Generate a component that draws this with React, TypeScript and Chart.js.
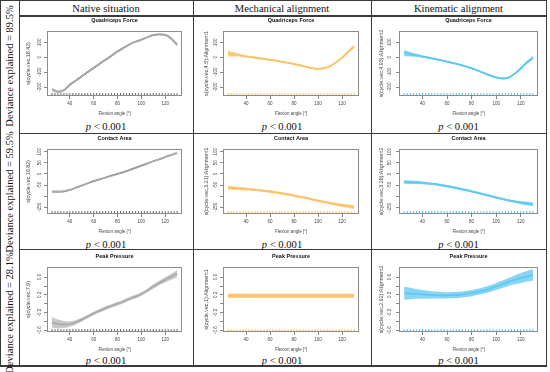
import React, { useEffect, useRef } from 'react';
import { Chart, registerables } from 'chart.js';
Chart.register(...registerables);

// ---------- data ----------
const flexion = [25, 30, 35, 40, 45, 50, 55, 60, 65, 70, 75, 80, 85, 90, 95, 100, 105, 110, 115, 120, 125, 130];
const rugAngles = [25, 27.5, 30, 32.5, 35, 37.5, 40, 42.5, 45, 47.5, 50, 52.5, 55, 57.5, 60, 62.5, 65, 67.5, 70, 72.5, 75, 77.5, 80, 82.5, 85, 87.5, 90, 92.5, 95, 97.5, 100, 102.5, 105, 107.5, 110, 112.5, 115, 117.5, 120, 122.5, 125, 127.5, 130];
const xTicks = [40, 60, 80, 100, 120];

const qfNative = [-215, -232, -222, -185, -157, -128, -100, -72, -44, -17, 10, 37, 62, 85, 103, 117, 133, 147, 153, 149, 125, 82];
const qfNativeBand = [10, 8, 6, 5, 5, 5, 5, 5, 5, 5, 5, 5, 5, 5, 5, 5, 5, 5, 5, 6, 8, 10];
const qfMech = [22, 18, 12, 5, 0, -6, -12, -18, -24, -31, -38, -46, -55, -64, -74, -78, -74, -60, -35, -3, 35, 72];
const qfMechBand = [20, 14, 9, 6, 5, 5, 5, 5, 5, 5, 5, 5, 5, 5, 5, 5, 5, 5, 5, 6, 8, 12];
const qfKin = [28, 20, 12, 4, -4, -12, -20, -30, -40, -50, -61, -74, -90, -106, -122, -136, -143, -137, -112, -76, -36, -3];
const qfKinBand = [22, 15, 10, 7, 6, 5, 5, 5, 5, 5, 5, 5, 5, 5, 5, 5, 5, 5, 6, 7, 9, 12];

const caNative = [-80, -80, -78, -72, -62, -52, -42, -32, -24, -16, -8, 0, 8, 17, 27, 37, 47, 57, 66, 76, 85, 94];
const caNativeBand = [6, 5, 4, 4, 3, 3, 3, 3, 3, 3, 3, 3, 3, 3, 3, 3, 3, 3, 3, 4, 5, 6];
const caMech = [-62, -64, -66, -68, -70, -73, -76, -79, -83, -87, -92, -97, -103, -108, -114, -120, -126, -131, -136, -141, -145, -149];
const caMechBand = [9, 8, 7, 6, 5, 5, 5, 5, 5, 5, 5, 5, 5, 5, 5, 5, 5, 5, 6, 7, 8, 9];
const caKin = [-36, -37, -38, -40, -43, -46, -50, -55, -60, -66, -72, -78, -85, -92, -99, -106, -112, -119, -124, -129, -133, -137];
const caKinBand = [9, 8, 7, 6, 5, 5, 5, 5, 5, 5, 5, 5, 5, 5, 5, 5, 5, 5, 6, 7, 8, 9];

const ppNative = [-0.42, -0.46, -0.47, -0.46, -0.42, -0.36, -0.29, -0.22, -0.16, -0.1, -0.05, 0.0, 0.05, 0.11, 0.16, 0.22, 0.3, 0.39, 0.47, 0.54, 0.61, 0.68];
const ppNativeBand = [0.12, 0.1, 0.08, 0.06, 0.05, 0.04, 0.04, 0.04, 0.04, 0.04, 0.04, 0.04, 0.04, 0.04, 0.04, 0.04, 0.04, 0.05, 0.05, 0.06, 0.07, 0.08];
const ppMech = [0.18, 0.18, 0.18, 0.18, 0.18, 0.18, 0.18, 0.18, 0.18, 0.18, 0.18, 0.18, 0.18, 0.18, 0.18, 0.18, 0.18, 0.18, 0.18, 0.18, 0.18, 0.18];
const ppMechBand = [0.05, 0.05, 0.05, 0.05, 0.05, 0.05, 0.05, 0.05, 0.05, 0.05, 0.05, 0.05, 0.05, 0.05, 0.05, 0.05, 0.05, 0.05, 0.05, 0.05, 0.05, 0.05];
const ppKin = [0.24, 0.23, 0.22, 0.21, 0.2, 0.195, 0.19, 0.19, 0.195, 0.2, 0.22, 0.24, 0.27, 0.3, 0.34, 0.39, 0.44, 0.49, 0.54, 0.58, 0.62, 0.65];
const ppKinBand = [0.15, 0.13, 0.11, 0.1, 0.09, 0.08, 0.075, 0.07, 0.07, 0.07, 0.07, 0.07, 0.07, 0.07, 0.075, 0.08, 0.085, 0.09, 0.1, 0.11, 0.12, 0.13];

const qfTicks = [-200, -100, 0, 100];
const qfTickLabels = ['-200', '-100', '0', '100'];
const caTicks = [-150, -100, -50, 0, 50, 100];
const caTickLabels = ['-150', '', '-50', '0', '50', '100'];
const ppTicks = [-0.6, -0.4, -0.2, 0, 0.2, 0.4, 0.6];
const ppTickLabels = ['-0.6', '', '-0.2', '', '0.2', '', '0.6'];
const qfRange = [-260, 175];
const caRange = [-180, 112];
const ppRange = [-0.64, 0.83];
const xRange = [20.8, 134.2];

const columnTitles = ['Native situation', 'Mechanical alignment', 'Kinematic alignment'];
const rowLabels = ['Deviance explained = 89.5%', 'Deviance explained = 59.5%', 'Deviance explained = 28.1%'];
const panelTitles = ['Quadriceps Force', 'Contact Area', 'Peak Pressure'];
const yAxisTitles = [
  ['s(cycle.vec,18.42)', 's(cycle.vec,4.5):Alignment1', 's(cycle.vec,4.93):Alignment2'],
  ['s(cycle.vec,10.82)', 's(cycle.vec,3.21):Alignment1', 's(cycle.vec,3.28):Alignment2'],
  ['s(cycle.vec,7.9)', 's(cycle.vec,1):Alignment1', 's(cycle.vec,2.92):Alignment2'],
];
const xAxisTitle = 'Flexion angle [°]';
const pValueText = '< 0.001';

const rowData = [
  { mids: [qfNative, qfMech, qfKin], bands: [qfNativeBand, qfMechBand, qfKinBand], ticks: qfTicks, labels: qfTickLabels, range: qfRange },
  { mids: [caNative, caMech, caKin], bands: [caNativeBand, caMechBand, caKinBand], ticks: caTicks, labels: caTickLabels, range: caRange },
  { mids: [ppNative, ppMech, ppKin], bands: [ppNativeBand, ppMechBand, ppKinBand], ticks: ppTicks, labels: ppTickLabels, range: ppRange },
];

// ---------- styles ----------
const palettes = [
  { line: '#777777', band: 'rgba(185,185,185,0.8)', rug: '#555555' },
  { line: '#fdb94f', band: 'rgba(253,196,110,0.8)', rug: '#fdb54a' },
  { line: '#3dbfee', band: 'rgba(105,203,243,0.8)', rug: '#38bdec' },
];
const SANS = '"Liberation Sans", Arial, sans-serif';
const SERIF = '"Liberation Serif", "Times New Roman", serif';
const colBoxLeft = [47, 223, 399];
const colBoxWidth = [138, 139, 142];
const colYTitleOffset = [18.4, 16.5, 17.6];
const colYTickOffset = [7.2, 7.6, 9.5];
const rowBoxTop = [31, 149, 267];
const BOX_H = 65;
const Y_W = 28;
const TOP_H = 16;
const X_H = 22;
const TICK_FONT = 4.5;
const lineColor = '#3a3a3a';

function measure(text: string, font: string) {
  const c = document.createElement('canvas');
  const ctx = c.getContext('2d')!;
  ctx.font = font;
  return ctx.measureText(text).width;
}

type PanelProps = { row: number; col: number };

function Panel({ row, col }: PanelProps) {
  const ref = useRef<HTMLCanvasElement | null>(null);
  const rd = rowData[row];
  const width = Y_W + colBoxWidth[col] + 2;
  const height = TOP_H + BOX_H + X_H;
  useEffect(() => {
    if (!ref.current) return;
    const pal = palettes[col];
    const mid = rd.mids[col];
    const band = rd.bands[col];
    const [yMin, yMax] = rd.range;
    const rugY = yMin + (yMax - yMin) * 0.025;
    const tickFontStr = `${TICK_FONT}px ${SANS}`;
    const widest = Math.max(...rd.labels.map((l) => measure(l, tickFontStr)));
    const yPad = colYTickOffset[col] - 3 - widest / 2;
    const yTitleFont = 5.3;
    const yTitlePad = Y_W - colYTitleOffset[col] - (yTitleFont * 1.2) / 2;

    const boxPlugin = {
      id: 'rbox',
      afterDatasetsDraw(chart: any) {
        const { left, top, right, bottom } = chart.chartArea;
        const ctx = chart.ctx;
        ctx.save();
        ctx.strokeStyle = '#8c8c8c';
        ctx.lineWidth = 1;
        ctx.strokeRect(Math.round(left) + 0.5, Math.round(top) + 0.5, Math.round(right - left) - 1, Math.round(bottom - top) - 1);
        ctx.restore();
      },
    };

    const chart = new Chart(ref.current, {
      type: 'line',
      data: {
        datasets: [
          {
            data: flexion.map((x, i) => ({ x, y: mid[i] - band[i] })),
            borderWidth: 0,
            pointRadius: 0,
            fill: false,
            cubicInterpolationMode: 'monotone',
          },
          {
            data: flexion.map((x, i) => ({ x, y: mid[i] + band[i] })),
            borderWidth: 0,
            pointRadius: 0,
            fill: '-1',
            backgroundColor: pal.band,
            cubicInterpolationMode: 'monotone',
          },
          {
            data: flexion.map((x, i) => ({ x, y: mid[i] })),
            borderColor: pal.line,
            borderWidth: 1.8,
            pointRadius: 0,
            fill: false,
            cubicInterpolationMode: 'monotone',
          },
          {
            data: rugAngles.map((x) => ({ x, y: rugY })),
            showLine: false,
            pointStyle: 'line',
            rotation: 90,
            pointRadius: 1.3,
            borderColor: pal.rug,
            pointBorderColor: pal.rug,
            borderWidth: 0.9,
            fill: false,
          },
        ],
      } as any,
      options: {
        animation: false,
        responsive: false,
        maintainAspectRatio: false,
        devicePixelRatio: 1,
        events: [],
        layout: { padding: { left: 0, right: 2, top: 0, bottom: 0 } },
        plugins: {
          legend: { display: false },
          tooltip: { enabled: false },
          title: {
            display: true,
            text: panelTitles[row],
            fullSize: false,
            color: '#111',
            font: { family: SANS, size: 5.5, weight: 'bold' },
            padding: { top: 1.7, bottom: 7.7 },
          },
        },
        scales: {
          x: {
            type: 'linear',
            min: xRange[0],
            max: xRange[1],
            afterBuildTicks: (s: any) => {
              s.ticks = xTicks.map((v) => ({ value: v }));
            },
            afterFit: (s: any) => {
              s.height = X_H;
            },
            ticks: {
              autoSkip: false,
              maxRotation: 0,
              minRotation: 0,
              padding: 1.7,
              color: '#444',
              font: { family: SANS, size: TICK_FONT },
              callback: (v: any) => String(v),
            },
            grid: { drawOnChartArea: false, drawTicks: true, tickLength: 3, color: '#666', lineWidth: 0.8 },
            border: { display: false },
            title: {
              display: true,
              text: xAxisTitle,
              color: '#444',
              font: { family: SANS, size: 4.5 },
              padding: { top: 0, bottom: 1.9 },
            },
          },
          y: {
            type: 'linear',
            min: yMin,
            max: yMax,
            afterBuildTicks: (s: any) => {
              s.ticks = rd.ticks.map((v) => ({ value: v }));
            },
            afterFit: (s: any) => {
              s.width = Y_W;
            },
            ticks: {
              autoSkip: false,
              minRotation: 90,
              maxRotation: 90,
              crossAlign: 'center',
              padding: yPad,
              color: '#444',
              font: { family: SANS, size: TICK_FONT },
              callback: (v: any) => {
                const i = rd.ticks.findIndex((t) => Math.abs(t - v) < 1e-9);
                return i >= 0 ? rd.labels[i] : '';
              },
            },
            grid: { drawOnChartArea: false, drawTicks: true, tickLength: 3, color: '#666', lineWidth: 0.8 },
            border: { display: false },
            title: {
              display: true,
              text: yAxisTitles[row][col],
              color: '#444',
              font: { family: SANS, size: yTitleFont },
              padding: { top: yTitlePad, bottom: 0 },
            },
          },
        },
      } as any,
      plugins: [boxPlugin],
    });
    return () => chart.destroy();
  }, [row, col]);

  return (
    <canvas
      ref={ref}
      width={width}
      height={height}
      style={{
        position: 'absolute',
        left: colBoxLeft[col] - Y_W,
        top: rowBoxTop[row] - TOP_H,
        width,
        height,
      }}
    />
  );
}

const colBounds = [19, 193, 371, 546];
const rowBounds = [16, 133, 249, 366];
const rowLabelCenters = [66, 192, 313];
const pValueCenters = [127, 245, 361];

function HLine({ x1, x2, y, t = 1 }: { x1: number; x2: number; y: number; t?: number }) {
  return <div style={{ position: 'absolute', left: x1, top: y, width: x2 - x1, height: t, background: lineColor }} />;
}
function VLine({ y1, y2, x, t = 1 }: { y1: number; y2: number; x: number; t?: number }) {
  return <div style={{ position: 'absolute', left: x, top: y1, width: t, height: y2 - y1, background: lineColor }} />;
}

export default function App() {
  const cells: React.ReactNode[] = [];
  for (let r = 0; r < 3; r++) for (let c = 0; c < 3; c++) cells.push(<Panel key={`${r}-${c}`} row={r} col={c} />);
  return (
    <div style={{ position: 'absolute', left: 0, top: 0, width: 550, height: 372, background: '#fff', overflow: 'hidden', fontFamily: SERIF }}>
      {/* grid lines */}
      <HLine x1={0} x2={547} y={0} />
      <HLine x1={19} x2={547} y={15} t={2} />
      <HLine x1={19} x2={547} y={rowBounds[1]} />
      <HLine x1={19} x2={547} y={rowBounds[2]} />
      <HLine x1={0} x2={547} y={365} t={2} />
      <VLine x={0} y1={0} y2={367} />
      <VLine x={colBounds[0]} y1={0} y2={367} />
      <VLine x={colBounds[1]} y1={0} y2={367} />
      <VLine x={colBounds[2]} y1={0} y2={367} />
      <VLine x={colBounds[3]} y1={0} y2={367} />
      {/* column headers */}
      {columnTitles.map((t, i) => (
        <div
          key={t}
          style={{
            position: 'absolute',
            left: colBounds[i],
            width: colBounds[i + 1] - colBounds[i],
            top: 2,
            height: 13,
            lineHeight: '13px',
            textAlign: 'center',
            fontSize: 10.6,
            color: '#111',
            whiteSpace: 'nowrap',
          }}
        >
          {t}
        </div>
      ))}
      {/* row labels */}
      {rowLabels.map((t, i) => (
        <div key={t} style={{ position: 'absolute', left: 10, top: rowLabelCenters[i], width: 0, height: 0 }}>
          <div
            style={{
              position: 'absolute',
              left: 0,
              top: 0,
              transform: 'translate(-50%, -50%) rotate(-90deg)',
              whiteSpace: 'nowrap',
              fontSize: 10.5,
              lineHeight: '12px',
              color: '#111',
            }}
          >
            {t}
          </div>
        </div>
      ))}
      {/* p-values */}
      {pValueCenters.map((y, r) =>
        [0, 1, 2].map((c) => (
          <div
            key={`p${r}${c}`}
            style={{
              position: 'absolute',
              left: colBounds[c],
              width: colBounds[c + 1] - colBounds[c],
              top: y - 7,
              height: 14,
              lineHeight: '14px',
              textAlign: 'center',
              fontSize: 10.6,
              color: '#111',
              whiteSpace: 'nowrap',
            }}
          >
            <i>p</i> {pValueText}
          </div>
        ))
      )}
      {cells}
    </div>
  );
}
